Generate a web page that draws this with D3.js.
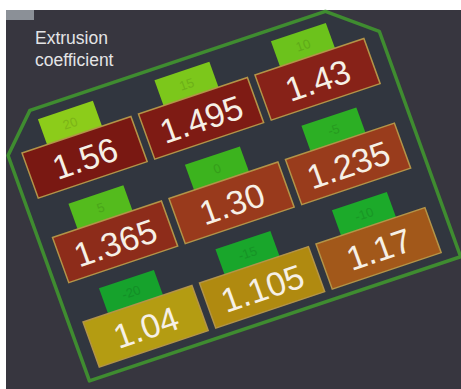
<!DOCTYPE html>
<html>
<head>
<meta charset="utf-8">
<script src="https://cdn.jsdelivr.net/npm/d3@7"></script>
<style>
  html, body { margin: 0; padding: 0; background: #ffffff; }
  svg { display: block; }
</style>
</head>
<body>
<svg id="chart" width="461" height="389"></svg>
<script>
// ---- data ----
const title = ["Extrusion", "coefficient"];
const rowIds = [0, 1, 2];
const colIds = [0, 1, 2];
const coefficients = [
  [1.56, 1.495, 1.43],
  [1.365, 1.30, 1.235],
  [1.04, 1.105, 1.17]
];
const coefficientLabels = [
  ["1.56", "1.495", "1.43"],
  ["1.365", "1.30", "1.235"],
  ["1.04", "1.105", "1.17"]
];
const offsets = [
  [20, 15, 10],
  [5, 0, -5],
  [-20, -15, -10]
];

// ---- drawing ----
const svg = d3.select("#chart");

svg.append("rect").attr("x", 6).attr("y", 10).attr("width", 455).attr("height", 379)
  .attr("fill", "#37363f");
svg.append("rect").attr("x", 6).attr("y", 10).attr("width", 28).attr("height", 10)
  .attr("fill", "#8b9097");

const titleG = svg.append("g");
titleG.selectAll("text").data(title).join("text")
  .attr("x", 35).attr("y", (d, i) => 44 + i * 22)
  .attr("font-family", "Liberation Sans, Arial, sans-serif")
  .attr("font-size", 17.5)
  .attr("fill", "#e4e4e6")
  .text(d => d);

const x = d3.scaleBand().domain(colIds).range([0, 361]).paddingInner(8 / 123).paddingOuter(0);
const y = d3.scaleBand().domain(rowIds).range([0, 228]).paddingInner(42 / 90).paddingOuter(0);

const boxColor = d3.scaleLinear()
  .domain([1.04, 1.105, 1.17, 1.235, 1.30, 1.365, 1.43, 1.495, 1.56])
  .range(["#b49c12", "#b08a10", "#a2581a", "#993c1c", "#993a1c", "#8d2c1a", "#872218", "#7e1b14", "#791812"]);
const tabColor = d3.scaleLinear()
  .domain([-20, -10, 0, 10, 20])
  .range(["#16a22c", "#1caa2a", "#3cb31e", "#6cc21c", "#8ccc1a"]);

const plate = svg.append("g")
  .attr("transform", "matrix(0.947,-0.317,0.339,0.939,22,153)");

const border = [[-14, 238], [-14, -2], [22, -38], [334, -38], [378, -2], [378, 238]];
plate.append("path")
  .attr("d", d3.line()(border) + "Z")
  .attr("fill", "#31363f")
  .attr("stroke", "#3f8c30")
  .attr("stroke-width", 3.5)
  .attr("stroke-linejoin", "round");

const cells = [];
rowIds.forEach(r => colIds.forEach(c => cells.push({
  r, c, v: coefficients[r][c], label: coefficientLabels[r][c], off: offsets[r][c]
})));

const tabW = 58, tabH = 30;
plate.selectAll("rect.tab").data(cells).join("rect")
  .attr("class", "tab")
  .attr("x", d => x(d.c) + (x.bandwidth() - tabW) / 2 - 2)
  .attr("y", d => y(d.r) - 27)
  .attr("width", tabW).attr("height", tabH)
  .attr("fill", d => tabColor(d.off));

plate.selectAll("text.off").data(cells).join("text")
  .attr("class", "off")
  .attr("x", d => x(d.c) + x.bandwidth() / 2 - 2)
  .attr("y", d => y(d.r) - 13)
  .attr("text-anchor", "middle")
  .attr("dominant-baseline", "central")
  .attr("font-family", "Liberation Sans, Arial, sans-serif")
  .attr("font-size", 13)
  .attr("fill", d => d3.color(tabColor(d.off)).darker(0.35))
  .text(d => d.off);

plate.selectAll("rect.box").data(cells).join("rect")
  .attr("class", "box")
  .attr("x", d => x(d.c))
  .attr("y", d => y(d.r))
  .attr("width", x.bandwidth())
  .attr("height", y.bandwidth())
  .attr("fill", d => boxColor(d.v))
  .attr("stroke", "#b39448")
  .attr("stroke-width", 1.5);

plate.selectAll("text.val").data(cells).join("text")
  .attr("class", "val")
  .attr("x", d => x(d.c) + x.bandwidth() / 2)
  .attr("y", d => y(d.r) + y.bandwidth() / 2 + 1)
  .attr("text-anchor", "middle")
  .attr("dominant-baseline", "central")
  .attr("font-family", "Liberation Sans, Arial, sans-serif")
  .attr("font-size", 34)
  .attr("fill", "#f6f0e6")
  .text(d => d.label);
</script>
</body>
</html>
